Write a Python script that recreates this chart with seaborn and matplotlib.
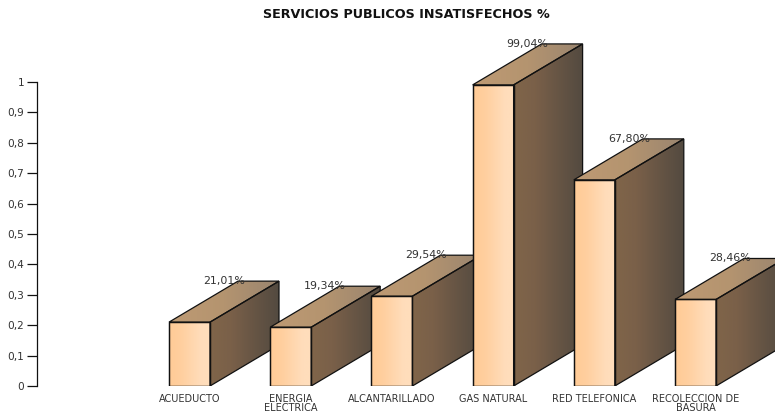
import numpy as np
import pandas as pd
import matplotlib
matplotlib.use("Agg")
import matplotlib.pyplot as plt
from matplotlib.colors import LinearSegmentedColormap
from matplotlib.patches import Polygon
import seaborn as sns

# dati del grafico
servizi = ["ACUEDUCTO", "ENERGIA\nELECTRICA", "ALCANTARILLADO", "GAS NATURAL", "RED TELEFONICA", "RECOLECCION DE\nBASURA"]
valori = [0.2101, 0.1934, 0.2954, 0.9904, 0.6780, 0.2846]
etichette = ["21,01%", "19,34%", "29,54%", "99,04%", "67,80%", "28,46%"]
tick_y = [0, 0.1, 0.2, 0.3, 0.4, 0.5, 0.6, 0.7, 0.8, 0.9, 1]
tick_y_label = ["0", "0,1", "0,2", "0,3", "0,4", "0,5", "0,6", "0,7", "0,8", "0,9", "1"]

sns.set_style("white")
# il testo originale e un Arial allargato: DejaVu ha le stesse proporzioni
plt.rcParams["font.family"] = ["DejaVu Sans"]

W, H = 775, 413
fig = plt.figure(figsize=(W / 100, H / 100), dpi=100)
# asse dal pixel x=37 al bordo destro, base a y=386, fino al bordo superiore
ax = fig.add_axes([37 / W, (H - 386) / H, (W - 37) / W, 386 / H])

df = pd.DataFrame({"servizio": servizi, "valore": valori})
passo = 101.2
larghezza = 41 / passo
sns.barplot(data=df, x="servizio", y="valore", width=larghezza, facecolor="none",
            edgecolor="#111111", linewidth=0.9, ax=ax)

# scale: 101.2 px tra le barre, 304 px per unita
xlim = ((37 - 189.5) / passo, (W - 189.5) / passo)
ylim = (0, 386 / 304)
prof_x = 69 / passo
prof_y = 41 / 304

cmap_front = LinearSegmentedColormap.from_list("front", [(0, "#FFCB96"), (0.3, "#FFCF9F"), (0.8, "#FFDDBB"), (1, "#FFDDBB")])
cmap_top = LinearSegmentedColormap.from_list("top", [(0, "#BE9A74"), (0.5, "#B4946F"), (1, "#9A8570")])
cmap_side = LinearSegmentedColormap.from_list("side", [(0, "#806549"), (0.3, "#7A6049"), (1, "#534A40")])
grad = np.linspace(0, 1, 128).reshape(1, -1)


def faccia(vertici, cmap, zorder):
    xs = [v[0] for v in vertici]
    ys = [v[1] for v in vertici]
    im = ax.imshow(grad, cmap=cmap, aspect="auto", extent=(min(xs), max(xs), min(ys), max(ys)),
                   origin="lower", zorder=zorder, interpolation="bilinear")
    bordo = Polygon(vertici, closed=True, facecolor="none", edgecolor="#111111",
                    linewidth=0.9, zorder=zorder + 0.1, joinstyle="miter")
    ax.add_patch(bordo)
    im.set_clip_path(bordo)


# ogni barra copre il fianco di quella precedente
for i, (valore, barra) in enumerate(zip(valori, ax.patches)):
    z = 3 + i
    x0 = i - larghezza / 2
    x1 = i + larghezza / 2
    faccia([(x0, 0), (x1, 0), (x1, valore), (x0, valore)], cmap_front, z)
    faccia([(x0, valore), (x1, valore), (x1 + prof_x, valore + prof_y), (x0 + prof_x, valore + prof_y)], cmap_top, z)
    faccia([(x1, 0), (x1 + prof_x, prof_y), (x1 + prof_x, valore + prof_y), (x1, valore)], cmap_side, z)
    barra.set_zorder(z + 0.2)
    ax.text(x0 + 55 / passo, valore + prof_y, etichette[i], ha="center", va="center",
            fontsize=7.9, color="#333333", zorder=20)

ax.set_xlim(xlim)
ax.set_ylim(ylim)
ax.set_xlabel("")
ax.set_ylabel("")
ax.set_yticks(tick_y)
ax.set_yticklabels(tick_y_label, fontsize=7.6, color="#333333")
ax.tick_params(axis="y", left=True, length=7, width=0.9, color="#111111", pad=2)
ax.tick_params(axis="x", bottom=False, pad=2.2, labelsize=7, labelcolor="#333333")
for lab in ax.get_xticklabels():
    lab.set_linespacing(0.9)
sns.despine(ax=ax, bottom=True, top=True, right=True)
ax.spines["left"].set_bounds(0, 1)
ax.spines["left"].set_color("#111111")
ax.spines["left"].set_linewidth(0.9)

fig.text(406 / W, 1 - 14 / H, "SERVICIOS PUBLICOS INSATISFECHOS %", ha="center", va="center",
         fontsize=9.2, fontweight="bold", color="#111111")

fig.savefig("out.png", dpi=100)
